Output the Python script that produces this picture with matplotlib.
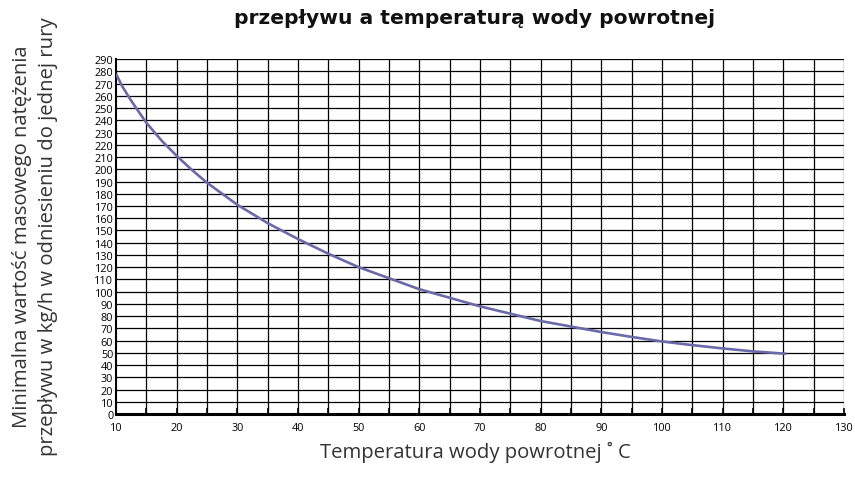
import numpy as np
import matplotlib
matplotlib.use("Agg")
import matplotlib.pyplot as plt

# temperatura wody powrotnej [°C] i minimalny przepływ [kg/h]
temperatura = [10, 11, 12.5, 15, 17.5, 20, 22.5, 25, 30, 35, 40, 45, 50, 55,
               60, 65, 70, 75, 80, 85, 90, 95, 100, 105, 110, 115, 120.5]
przeplyw = [278, 268, 256, 238, 223.5, 211, 199.5, 189, 171, 156, 143, 131,
            120, 111, 102, 95, 88, 82, 76, 71.5, 67, 63, 59.3, 56.3, 53.6,
            51.2, 49.2]

x_ticks = list(range(10, 131, 10))
y_ticks = list(range(0, 291, 10))

fig = plt.figure(figsize=(8.55, 4.89), dpi=100)
ax = fig.add_axes([0.1357, 0.1513, 0.8513, 0.7257])

ax.set_xlim(10, 130)
ax.set_ylim(0, 290)

# siatka: pionowe co 5, poziome co 10
for xv in np.arange(15, 131, 5):
    ax.axvline(xv, color="black", lw=0.9, zorder=1)
for yv in y_ticks[1:]:
    ax.axhline(yv, color="black", lw=0.9, zorder=1)

ax.plot(temperatura, przeplyw, color="#6a6aa8", lw=1.9, zorder=3,
        solid_capstyle="butt")

ax.set_xticks(x_ticks)
ax.set_xticks(np.arange(10, 131, 5), minor=True)
ax.set_yticks(y_ticks)
ax.tick_params(axis="x", direction="in", length=4, width=1.2, labelsize=7.8,
               pad=6)
ax.tick_params(axis="x", which="minor", direction="in", length=4, width=1.2)
ax.tick_params(axis="y", direction="out", length=0, labelsize=7.8, pad=2)
for lab in ax.get_xticklabels() + ax.get_yticklabels():
    lab.set_family("Open Sans")

for s in ["top", "right"]:
    ax.spines[s].set_visible(False)
ax.spines["bottom"].set_linewidth(2.2)
ax.spines["left"].set_linewidth(1.5)

fig.text(0.555, 0.963, "przepływu a temperaturą wody powrotnej",
         ha="center", va="center", fontsize=14.6, fontweight="bold",
         family="DejaVu Sans", color="#111111")

opis = dict(fontsize=14.6, family="Open Sans", color="#333333")
fig.text(0.5556, 0.074, "Temperatura wody powrotnej ˚ C", ha="center",
         va="center", **opis)
fig.text(0.026, 0.515, "Minimalna wartość masowego natężenia", rotation=90,
         ha="center", va="center", **opis)
fig.text(0.056, 0.515, "przepływu w kg/h w odniesieniu do jednej rury",
         rotation=90, ha="center", va="center", **opis)

fig.savefig("out.png", dpi=100)
